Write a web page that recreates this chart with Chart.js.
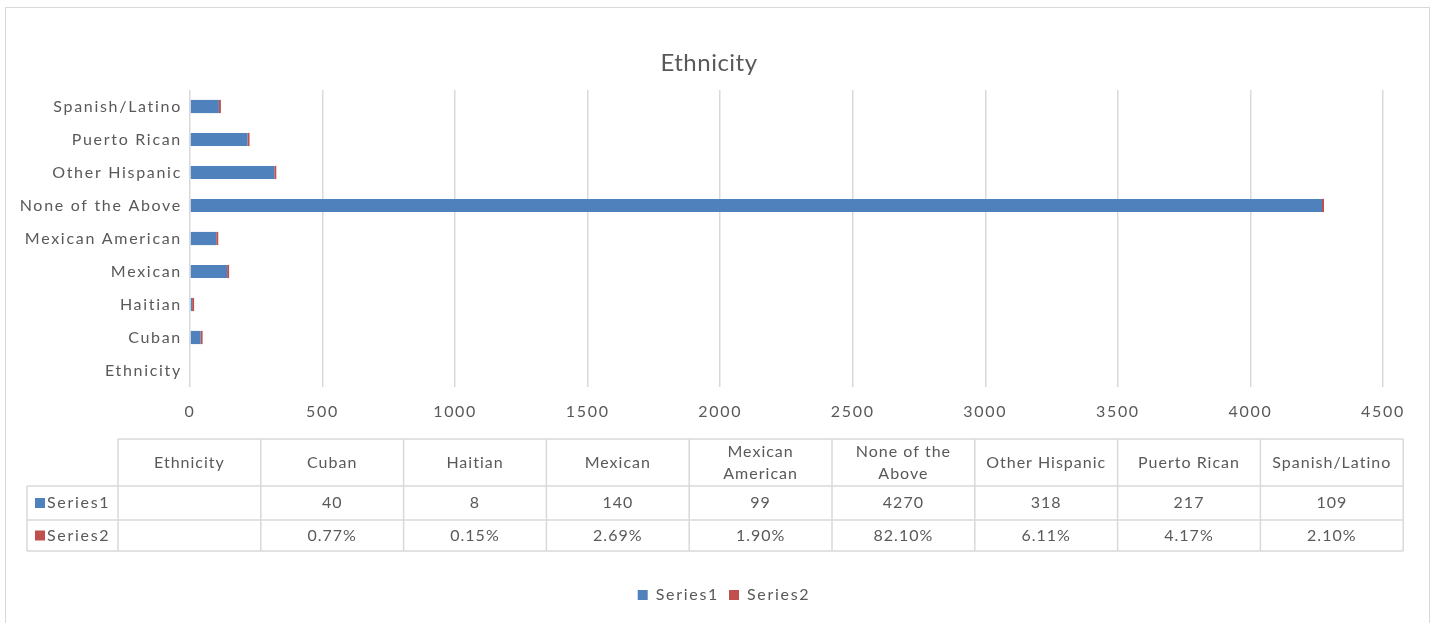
<!DOCTYPE html>
<html>
<head>
<meta charset="utf-8">
<title>Ethnicity</title>
<script src="https://cdn.jsdelivr.net/npm/chart.js@4"></script>
<style>
  html, body { margin: 0; padding: 0; background: #fff; }
  #chart { display: block; }
</style>
</head>
<body>
<canvas id="chart" width="1434" height="623"></canvas>
<script>
// categories and series
const categories = ['Ethnicity', 'Cuban', 'Haitian', 'Mexican', 'Mexican American', 'None of the Above', 'Other Hispanic', 'Puerto Rican', 'Spanish/Latino'];
const series1 = [null, 40, 8, 140, 99, 4270, 318, 217, 109];
const series2 = [null, 0.0077, 0.0015, 0.0269, 0.0190, 0.8210, 0.0611, 0.0417, 0.0210];
const xTicks = [0, 500, 1000, 1500, 2000, 2500, 3000, 3500, 4000, 4500];
const chartTitle = 'Ethnicity';

const textColor = '#595959';
const gridColor = '#d9d9d9';
const blue = '#4f81bd';
const red = '#c0504d';
const font = 'Lato, "Open Sans", sans-serif';

// header text for the data table (two line where it wraps)
const headerLines = {
    'Mexican American': ['Mexican', 'American'],
    'None of the Above': ['None of the', 'Above']
};

// spaced-out text like the office renderer
const spacing = {
    id: 'spacing',
    beforeUpdate(chart) { chart.ctx.letterSpacing = '1.7px'; },
    beforeDraw(chart) { chart.ctx.letterSpacing = '1.7px'; }
};

// the legend is centred over the whole chart object, not the plot
const legendShift = {
    id: 'legendShift',
    afterLayout(chart) {
        const lg = chart.legend;
        lg.left = 65;
        lg.width = lg.right - lg.left;
    }
};

// outer frame and the title
const frame = {
    id: 'frame',
    beforeDraw(chart) {
        const ctx = chart.ctx;
        ctx.save();
        ctx.strokeStyle = '#d9d9d9';
        ctx.lineWidth = 1;
        ctx.strokeRect(5.5, 7.5, 1424, 640);
        ctx.letterSpacing = '0.5px';
        ctx.fillStyle = textColor;
        ctx.font = '24px ' + font;
        ctx.textAlign = 'center';
        ctx.textBaseline = 'middle';
        ctx.fillText(chartTitle, 709, 63);
        ctx.restore();
    }
};

// data table under the axis
const dataTable = {
    id: 'dataTable',
    afterDraw(chart) {
        const ctx = chart.ctx;
        const left = 118, colW = 142.8, keyLeft = 27;
        const top = 439, headH = 47, rowH = [34, 31];
        const right = left + colW * categories.length;
        const y1 = top + headH, y2 = y1 + rowH[0], y3 = y2 + rowH[1];

        ctx.save();
        ctx.letterSpacing = '1px';
        ctx.strokeStyle = gridColor;
        ctx.lineWidth = 1.5;
        ctx.beginPath();
        ctx.moveTo(left, top); ctx.lineTo(right, top);
        [y1, y2, y3].forEach(y => { ctx.moveTo(keyLeft, y); ctx.lineTo(right, y); });
        ctx.moveTo(keyLeft, y1); ctx.lineTo(keyLeft, y3);
        for (let i = 0; i <= categories.length; i++) {
            const x = left + colW * i;
            ctx.moveTo(x, top); ctx.lineTo(x, y3);
        }
        ctx.stroke();

        ctx.fillStyle = textColor;
        ctx.font = '16px ' + font;
        ctx.textAlign = 'center';
        ctx.textBaseline = 'middle';
        categories.forEach((c, i) => {
            const cx = left + colW * (i + 0.5);
            const lines = headerLines[c] || [c];
            const mid = top + headH / 2;
            lines.forEach((t, k) => {
                ctx.fillText(t, cx, mid + (k - (lines.length - 1) / 2) * 22);
            });
            if (series1[i] !== null) {
                ctx.fillText(String(series1[i]), cx, y1 + rowH[0] / 2);
            }
            if (series2[i] !== null) {
                ctx.fillText((series2[i] * 100).toFixed(2) + '%', cx, y2 + rowH[1] / 2);
            }
        });

        // series keys
        ctx.textAlign = 'left';
        ctx.letterSpacing = '1.7px';
        [['Series1', blue, y1 + rowH[0] / 2], ['Series2', red, y2 + rowH[1] / 2]].forEach(([name, col, cy]) => {
            ctx.fillStyle = col;
            ctx.fillRect(35, cy - 5, 10, 10);
            ctx.fillStyle = textColor;
            ctx.fillText(name, 47, cy);
        });
        ctx.restore();
    }
};

new Chart(document.getElementById('chart'), {
    type: 'bar',
    data: {
        labels: categories,
        datasets: [
            {
                label: 'Series1',
                data: series1,
                backgroundColor: blue,
                barPercentage: 0.4,
                categoryPercentage: 1
            },
            {
                label: 'Series2',
                data: series2,
                backgroundColor: red,
                barPercentage: 0.4,
                categoryPercentage: 1,
                minBarLength: 2
            }
        ]
    },
    options: {
        indexAxis: 'y',
        responsive: false,
        animation: false,
        layout: { padding: { top: 90, left: 0, right: 51, bottom: 10 } },
        scales: {
            x: {
                stacked: true,
                min: 0,
                max: 4500,
                afterBuildTicks(scale) { scale.ticks = xTicks.map(v => ({ value: v })); },
                afterFit(scale) { scale.height = 190; },
                grid: { color: gridColor, lineWidth: 1.5, drawTicks: false },
                border: { display: false },
                ticks: {
                    color: textColor,
                    font: { family: font, size: 16 },
                    padding: 15,
                    callback: (v) => String(v)
                }
            },
            y: {
                stacked: true,
                reverse: true,
                afterFit(scale) { scale.width = 190; },
                grid: { display: false },
                border: { display: false },
                ticks: { color: textColor, font: { family: font, size: 16 }, padding: 0 }
            }
        },
        plugins: {
            title: { display: false },
            legend: {
                position: 'bottom',
                labels: {
                    color: textColor,
                    boxWidth: 10,
                    boxHeight: 10,
                    font: { family: font, size: 16 }
                }
            },
            tooltip: { enabled: false }
        }
    },
    plugins: [spacing, legendShift, frame, dataTable]
});
</script>
</body>
</html>
